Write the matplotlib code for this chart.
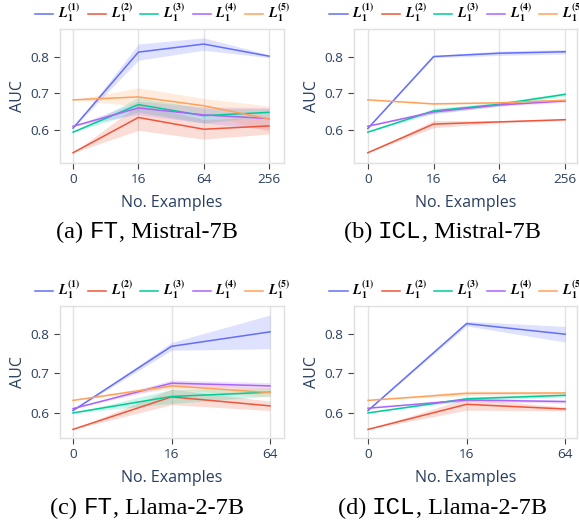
import matplotlib.pyplot as plt
from matplotlib.offsetbox import TextArea, HPacker, AnnotationBbox

plt.rcParams['mathtext.fontset'] = 'stix'

# ---- data -------------------------------------------------------------
x_mistral = ['0', '16', '64', '256']
x_llama = ['0', '16', '64']

# (a) FT, Mistral-7B
ft_mistral = {
    1: [0.605, 0.812, 0.834, 0.801],
    2: [0.538, 0.634, 0.602, 0.611],
    3: [0.594, 0.669, 0.639, 0.648],
    4: [0.610, 0.660, 0.641, 0.631],
    5: [0.682, 0.690, 0.666, 0.630],
}
ft_mistral_err = {
    1: [0.0, 0.022, 0.017, 0.004],
    2: [0.0, 0.035, 0.027, 0.022],
    3: [0.0, 0.020, 0.020, 0.010],
    4: [0.0, 0.018, 0.022, 0.030],
    5: [0.0, 0.025, 0.020, 0.035],
}

# (b) ICL, Mistral-7B
icl_mistral = {
    1: [0.604, 0.800, 0.809, 0.813],
    2: [0.538, 0.616, 0.622, 0.628],
    3: [0.594, 0.652, 0.670, 0.697],
    4: [0.610, 0.649, 0.668, 0.679],
    5: [0.682, 0.671, 0.674, 0.681],
}
icl_mistral_err = {
    1: [0.0, 0.003, 0.006, 0.006],
    2: [0.0, 0.010, 0.003, 0.002],
    3: [0.0, 0.007, 0.005, 0.005],
    4: [0.0, 0.005, 0.003, 0.004],
    5: [0.0, 0.002, 0.002, 0.003],
}

# (c) FT, Llama-2-7B
ft_llama = {
    1: [0.605, 0.769, 0.806],
    2: [0.557, 0.640, 0.617],
    3: [0.599, 0.641, 0.652],
    4: [0.610, 0.675, 0.668],
    5: [0.631, 0.668, 0.651],
}
ft_llama_err = {
    1: [0.0, 0.010, 0.043],
    2: [0.0, 0.020, 0.012],
    3: [0.0, 0.018, 0.010],
    4: [0.0, 0.008, 0.008],
    5: [0.0, 0.008, 0.012],
}

# (d) ICL, Llama-2-7B
icl_llama = {
    1: [0.605, 0.827, 0.800],
    2: [0.557, 0.621, 0.609],
    3: [0.599, 0.635, 0.644],
    4: [0.611, 0.632, 0.628],
    5: [0.631, 0.649, 0.650],
}
icl_llama_err = {
    1: [0.0, 0.006, 0.020],
    2: [0.0, 0.015, 0.005],
    3: [0.0, 0.005, 0.004],
    4: [0.0, 0.004, 0.004],
    5: [0.0, 0.006, 0.003],
}

colors = ['#636EFA', '#EF553B', '#00CC96', '#AB63FA', '#FFA15A']
font_col = '#2a3f5f'


def draw(ax, cats, vals, errs, xlim, ylim):
    xs = list(range(len(cats)))
    for i, k in enumerate(vals):
        lo = [v - e for v, e in zip(vals[k], errs[k])]
        hi = [v + e for v, e in zip(vals[k], errs[k])]
        ax.fill_between(xs, lo, hi, color=colors[i], alpha=0.2, lw=0)
        ax.plot(xs, vals[k], color=colors[i], lw=1.1,
                label=r'$\mathbfit{L}_{\mathbf{1}}^{\mathbf{(%d)}}$' % k)
    ax.set_xticks(xs)
    ax.set_xticklabels(cats)
    ax.set_yticks([0.6, 0.7, 0.8])
    ax.set_xlim(*xlim)
    ax.set_ylim(*ylim)
    ax.grid(axis='x', color='#e2e2e2', lw=1)
    ax.set_axisbelow(True)
    for s in ax.spines.values():
        s.set_color('#e0e0e0')
        s.set_linewidth(1)
    ax.tick_params(length=4, width=0.8, color='#444444', labelcolor=font_col,
                   labelsize=9.7)
    ax.tick_params(axis='x', pad=3)
    ax.tick_params(axis='y', pad=4)
    for lab in ax.get_xticklabels() + ax.get_yticklabels():
        lab.set_fontfamily('Open Sans')
    ax.set_ylabel('AUC', fontfamily='Open Sans', fontsize=11.5, color=font_col, labelpad=3)
    ax.set_xlabel('No. Examples', fontfamily='Open Sans', fontsize=11.5, color=font_col, labelpad=7)
    ax.legend(loc='center left', bbox_to_anchor=(-0.11, 1.12), ncol=5, frameon=False,
              fontsize=10, handlelength=1.3, handletextpad=0.35, columnspacing=0.55,
              borderaxespad=0, borderpad=0)


def caption(fig, x, y, letter, method, model):
    serif = dict(fontfamily='Liberation Serif', fontsize=17.5, color='black')
    mono = dict(fontfamily='Liberation Mono', fontsize=17.5, color='black')
    parts = [TextArea('(%s)\u00a0' % letter, textprops=serif),
             TextArea(method, textprops=mono),
             TextArea(', ' + model, textprops=serif)]
    box = HPacker(children=parts, align='baseline', pad=0, sep=0)
    ab = AnnotationBbox(box, (x, y), xycoords='figure fraction', frameon=False,
                        box_alignment=(0.5, 0.5))
    fig.add_artist(ab)


fig = plt.figure(figsize=(5.79, 5.21), dpi=100)
W, H = 579, 521

ax_a = fig.add_axes([60 / W, 1 - 163 / H, 224 / W, 134 / H])
ax_b = fig.add_axes([354 / W, 1 - 163 / H, 223 / W, 134 / H])
ax_c = fig.add_axes([60 / W, 1 - 438 / H, 224 / W, 132 / H])
ax_d = fig.add_axes([354 / W, 1 - 438 / H, 223 / W, 132 / H])

draw(ax_a, x_mistral, ft_mistral, ft_mistral_err, (-0.2, 3.23), (0.51, 0.875))
draw(ax_b, x_mistral, icl_mistral, icl_mistral_err, (-0.21, 3.18), (0.51, 0.875))
draw(ax_c, x_llama, ft_llama, ft_llama_err, (-0.132, 2.142), (0.535, 0.872))
draw(ax_d, x_llama, icl_llama, icl_llama_err, (-0.142, 2.12), (0.535, 0.872))

caption(fig, 147 / W, 1 - 232 / H, 'a', 'FT', 'Mistral-7B')
caption(fig, 442 / W, 1 - 232 / H, 'b', 'ICL', 'Mistral-7B')
caption(fig, 147 / W, 1 - 508 / H, 'c', 'FT', 'Llama-2-7B')
caption(fig, 442 / W, 1 - 508 / H, 'd', 'ICL', 'Llama-2-7B')

fig.savefig('out.png', dpi=100)
